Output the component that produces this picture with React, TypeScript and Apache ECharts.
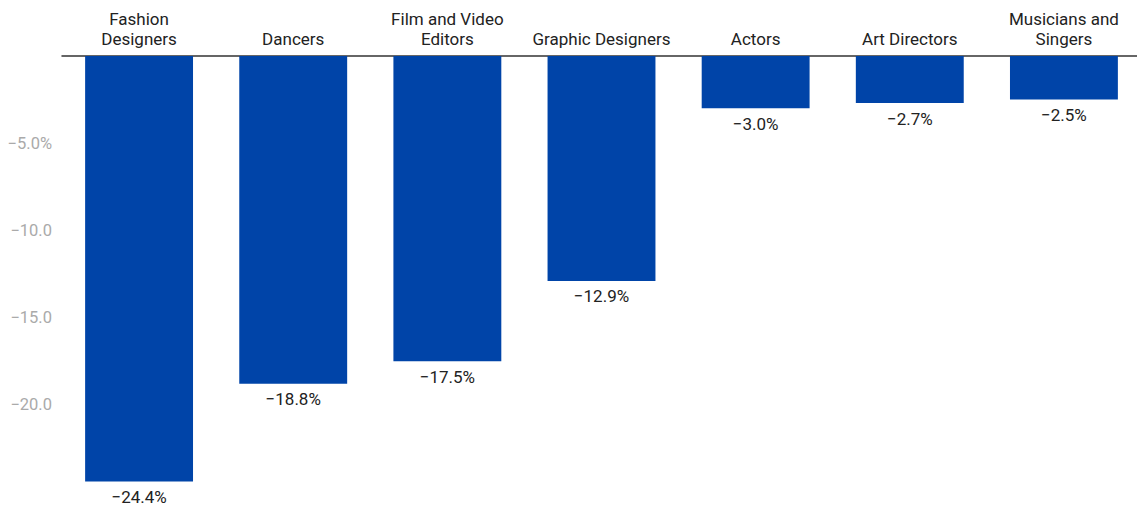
import React, { useEffect, useRef } from "react";
import * as echarts from "echarts";

const categories = [
  "Fashion\nDesigners",
  "Dancers",
  "Film and Video\nEditors",
  "Graphic Designers",
  "Actors",
  "Art Directors",
  "Musicians and\nSingers",
];
const values = [-24.4, -18.8, -17.5, -12.9, -3.0, -2.7, -2.5];
const yTicks = [-25, -20, -15, -10, -5, 0];

const fmtMinus = (v: number, digits: number) =>
  (v < 0 ? "\u2212" : "") + Math.abs(v).toFixed(digits);

export default function App() {
  const ref = useRef<HTMLDivElement>(null);
  useEffect(() => {
    document.body.style.margin = "0";
    const chart = echarts.init(ref.current!, null, { renderer: "svg" });
    chart.setOption({
      animation: false,
      textStyle: { fontFamily: "Roboto" },
      grid: {
        left: 62,
        width: 1079,
        top: 56,
        bottom: 18,
        containLabel: false,
        outerBoundsMode: "none",
      },
      xAxis: {
        type: "category",
        position: "top",
        data: categories,
        axisLine: { show: true, lineStyle: { color: "#333", width: 1.5 } },
        axisTick: { show: false },
        axisLabel: {
          color: "#222",
          fontSize: 17,
          lineHeight: 20,
          margin: 7,
          interval: 0,
          fontFamily: "Roboto",
        },
      },
      yAxis: {
        type: "value",
        min: yTicks[0],
        max: yTicks[yTicks.length - 1],
        interval: 5,
        splitLine: { show: false },
        axisLine: { show: false },
        axisTick: { show: false },
        axisLabel: {
          color: "#aaa",
          fontSize: 16.5,
          margin: 10,
          fontFamily: "Roboto",
          formatter: (v: number) => {
            if (v === 0 || v === yTicks[0]) return "";
            return fmtMinus(v, 1) + (v === -5 ? "%" : "");
          },
        },
      },
      series: [
        {
          type: "bar",
          data: values,
          barWidth: "70%",
          itemStyle: { color: "#0044A8" },
          label: {
            show: true,
            position: "bottom",
            distance: 7,
            color: "#222",
            fontSize: 17,
            fontFamily: "Roboto",
            formatter: (p: any) => fmtMinus(p.value, 1) + "%",
          },
        },
      ],
    });
    return () => chart.dispose();
  }, []);
  return <div ref={ref} style={{ width: 1137, height: 510 }} />;
}
